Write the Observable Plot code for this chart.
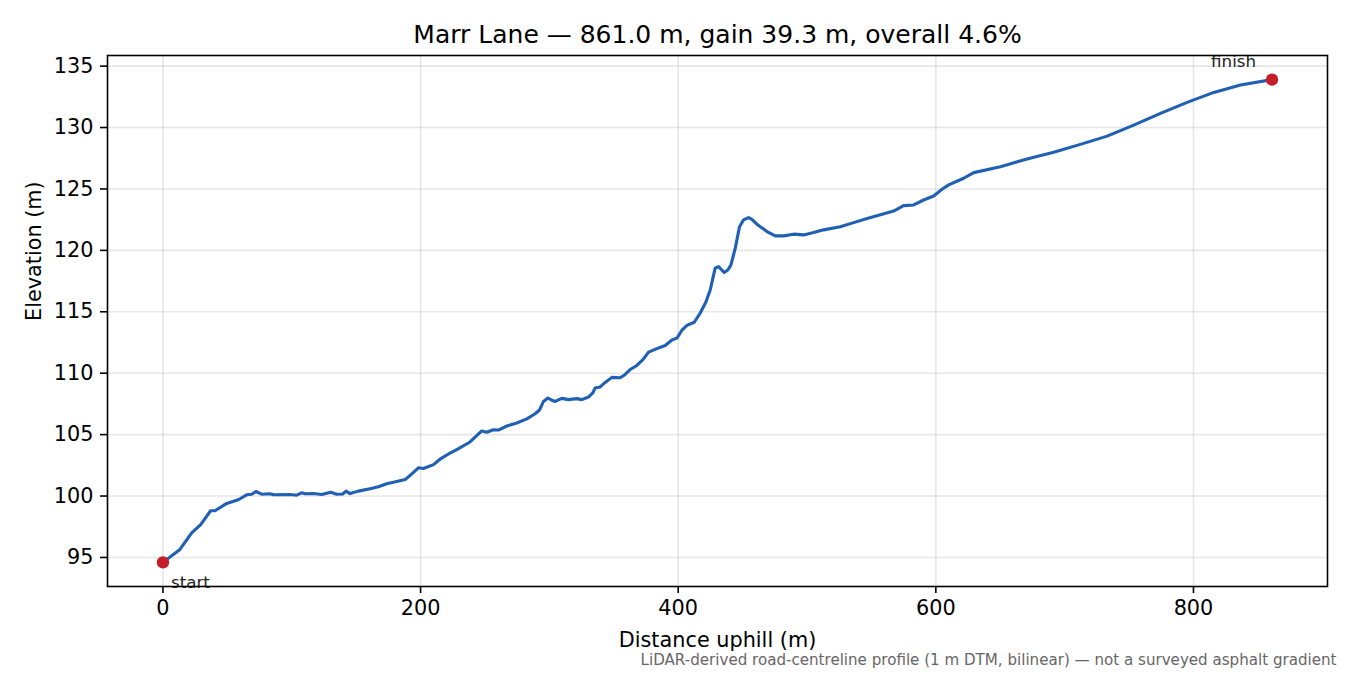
<!DOCTYPE html>
<html>
<head>
<meta charset="utf-8">
<script src="https://cdn.jsdelivr.net/npm/d3@7"></script>
<script src="https://cdn.jsdelivr.net/npm/@observablehq/plot@0.6"></script>
<style>
  html, body { margin: 0; padding: 0; background: #fff; }
  #chart { width: 1350px; height: 675px; }
</style>
</head>
<body>
<div id="chart"></div>
<script>
const distance = [0, 13.2, 22.3, 29.3, 37, 40.4, 49.5, 58.5, 65, 68.9, 72.2, 76.6, 83, 86, 98.6, 103.8, 107.7, 110.3, 116.8, 123.2, 130.2, 134.9, 139.5, 142.1, 145.2, 151.7, 160.8, 167.2, 173.7, 181.5, 188, 193.2, 198.3, 202.2, 210, 215.1, 222.9, 228.1, 238.4, 247.5, 251.4, 256.5, 260.4, 267, 274.7, 282.5, 288.9, 292.3, 295.4, 298.8, 301.9, 304.5, 309.6, 314.8, 321.3, 325.2, 330.3, 333.7, 335.5, 339.4, 343.3, 348.5, 355, 358.8, 362.7, 367.9, 372.6, 377, 383.4, 389.9, 395.1, 399, 402.9, 406.8, 412.5, 417.1, 421.5, 424.9, 428.7, 431.3, 435.7, 438.5, 440.9, 444.3, 447.6, 450.7, 454.6, 457.2, 461.1, 468.9, 475.3, 481.8, 489.6, 497.3, 505.1, 512.9, 525.8, 536.2, 546.6, 557, 567.2, 575, 582.8, 590.5, 598.3, 604.8, 610, 621.6, 629.4, 650.1, 670.8, 691.5, 712.2, 733, 753.6, 774.4, 795.1, 815.8, 836.5, 861];
const elevation = [94.6, 95.65, 97.0, 97.68, 98.8, 98.8, 99.4, 99.7, 100.1, 100.15, 100.37, 100.15, 100.18, 100.1, 100.12, 100.07, 100.26, 100.18, 100.2, 100.12, 100.31, 100.15, 100.17, 100.4, 100.2, 100.4, 100.6, 100.75, 101.0, 101.18, 101.34, 101.8, 102.3, 102.24, 102.56, 103.0, 103.5, 103.78, 104.4, 105.3, 105.19, 105.4, 105.37, 105.7, 105.95, 106.28, 106.7, 107.0, 107.7, 107.98, 107.8, 107.7, 107.95, 107.85, 107.93, 107.85, 108.06, 108.39, 108.8, 108.88, 109.25, 109.66, 109.63, 109.9, 110.3, 110.63, 111.1, 111.72, 112.0, 112.26, 112.7, 112.86, 113.5, 113.89, 114.15, 114.9, 115.8, 116.8, 118.55, 118.68, 118.2, 118.4, 118.8, 120.18, 121.93, 122.48, 122.67, 122.53, 122.13, 121.53, 121.18, 121.18, 121.32, 121.26, 121.45, 121.67, 121.93, 122.26, 122.6, 122.9, 123.2, 123.64, 123.7, 124.1, 124.43, 124.97, 125.33, 125.87, 126.33, 126.81, 127.44, 127.98, 128.63, 129.3, 130.2, 131.15, 132.05, 132.86, 133.46, 133.9];

const xTicks = [0, 200, 400, 600, 800];
const yTicks = [95, 100, 105, 110, 115, 120, 125, 130, 135];

const titleText = "Marr Lane — 861.0 m, gain 39.3 m, overall 4.6%";
const xLabel = "Distance uphill (m)";
const yLabel = "Elevation (m)";
const captionText = "LiDAR-derived road-centreline profile (1 m DTM, bilinear) — not a surveyed asphalt gradient";
const endLabels = ["start", "finish"];

const profile = distance.map((d, i) => ({d, e: elevation[i]}));
const first = profile[0];
const last = profile[profile.length - 1];

const xMin = d3.min(distance), xMax = d3.max(distance);
const yMin = d3.min(elevation), yMax = d3.max(elevation);
const xPad = (xMax - xMin) * 0.05, yPad = (yMax - yMin) * 0.05;

const font = "'DejaVu Sans', sans-serif";

const chart = Plot.plot({
  width: 1350,
  height: 675,
  marginLeft: 107,
  marginRight: 23,
  marginTop: 55,
  marginBottom: 89,
  style: {fontFamily: font, fontSize: "20.8px", color: "#000", background: "#fff", overflow: "visible"},
  x: {domain: [xMin - xPad, xMax + xPad], label: null},
  y: {domain: [yMin - yPad, yMax + yPad], label: null},
  marks: [
    Plot.gridX(xTicks, {stroke: "#b0b0b0", strokeOpacity: 0.3, strokeWidth: 1.6}),
    Plot.gridY(yTicks, {stroke: "#b0b0b0", strokeOpacity: 0.3, strokeWidth: 1.6}),
    Plot.line(profile, {x: "d", y: "e", stroke: "#1f5fb4", strokeWidth: 3.1, curve: "linear"}),
    Plot.dot([first, last], {x: "d", y: "e", r: 6.2, fill: "#c41e2a", stroke: null}),
    Plot.text([first], {x: "d", y: "e", text: () => endLabels[0], textAnchor: "start", lineAnchor: "middle", dx: 8, dy: 20, fontSize: 16.7, fill: "#222"}),
    Plot.text([last], {x: "d", y: "e", text: () => endLabels[1], textAnchor: "end", lineAnchor: "middle", dx: -16, dy: -18, fontSize: 16.7, fill: "#222"}),
    Plot.frame({stroke: "#000", strokeWidth: 1.6}),
    Plot.axisX(xTicks, {tickSize: 7, tickPadding: 7, strokeWidth: 1.6, fontSize: 20.8, label: null}),
    Plot.axisY(yTicks, {tickSize: 7, tickPadding: 7, strokeWidth: 1.6, fontSize: 20.8, label: null}),
    Plot.text([xLabel], {text: d => d, frameAnchor: "bottom", lineAnchor: "middle", dy: 54, fontSize: 20.8, fill: "#000"}),
    Plot.text([yLabel], {text: d => d, frameAnchor: "left", lineAnchor: "middle", dx: -73, rotate: -90, fontSize: 20.8, fill: "#000"}),
    Plot.text([titleText], {text: d => d, frameAnchor: "top", lineAnchor: "middle", dy: -21, fontSize: 25, fill: "#000"}),
    Plot.text([captionText], {text: d => d, frameAnchor: "bottom-right", textAnchor: "end", lineAnchor: "middle", dx: 9, dy: 74, fontSize: 15.1, fill: "#666"})
  ]
});

document.getElementById("chart").appendChild(chart);
</script>
</body>
</html>
